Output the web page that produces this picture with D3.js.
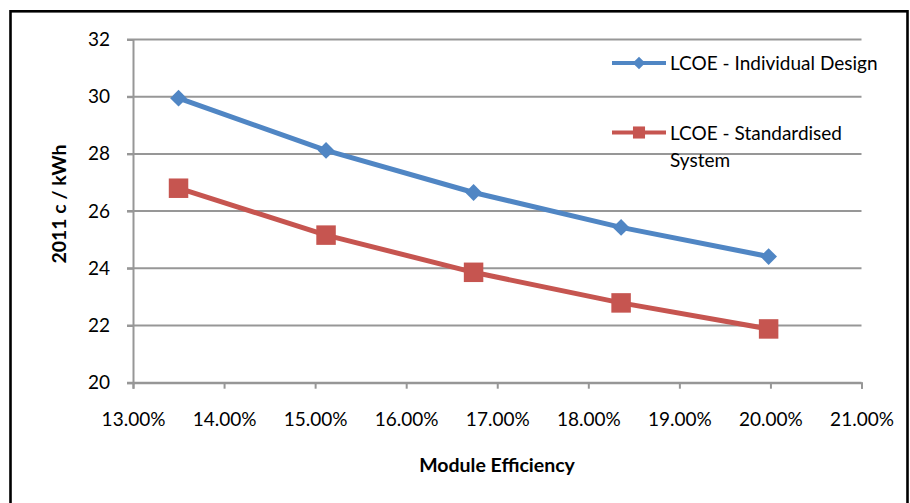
<!DOCTYPE html>
<html><head><meta charset="utf-8">
<script src="https://cdn.jsdelivr.net/npm/d3@7"></script>
<style>body{margin:0;background:#fff}svg{display:block}text{font-family:Lato,"Open Sans",sans-serif;fill:#000}</style>
</head><body><svg id="c" width="910" height="503"></svg>
<script>
const efficiency = [13.5, 15.12, 16.74, 18.36, 19.98];
const individual = [29.95, 28.12, 26.65, 25.43, 24.41];
const standardised = [26.8, 25.16, 23.86, 22.79, 21.88];
const xTicks = [13, 14, 15, 16, 17, 18, 19, 20, 21];
const yTicks = [20, 22, 24, 26, 28, 30, 32];
const seriesNames = ["LCOE - Individual Design", "LCOE - Standardised System"];

const svg = d3.select("#c");
const m = {l:133, r:861.5, t:39.5, b:382.7};
const x = d3.scaleLinear().domain([13,21]).range([m.l, m.r]);
const y = d3.scaleLinear().domain([20,32]).range([m.b, m.t]);
const grid = "#979797", blue = "#5086C4", red = "#C65550";

svg.append("rect").attr("x",10.5).attr("y",11.3).attr("width",897).attr("height",520)
  .attr("fill","none").attr("stroke","#000").attr("stroke-width",2.6);

svg.append("g").selectAll("line").data(yTicks).join("line")
  .attr("x1", m.l-6).attr("x2", m.r).attr("y1", d=>y(d)).attr("y2", d=>y(d))
  .attr("stroke", grid).attr("stroke-width", 2);

const ya = svg.append("g").attr("transform",`translate(${m.l},0)`)
  .call(d3.axisLeft(y).tickValues(yTicks).tickSize(6).tickPadding(17).tickFormat(d3.format("d")));
ya.select(".domain").attr("stroke",grid).attr("stroke-width",2);
ya.selectAll(".tick line").attr("stroke",grid).attr("stroke-width",2);
ya.selectAll("text").style("font-size","19px").attr("fill","#000");

const xa = svg.append("g").attr("transform",`translate(0,${m.b})`)
  .call(d3.axisBottom(x).tickValues(xTicks).tickSize(6).tickPadding(24).tickFormat(d=>d.toFixed(2)+"%"));
xa.select(".domain").attr("stroke",grid).attr("stroke-width",2);
xa.selectAll(".tick line").attr("stroke",grid).attr("stroke-width",2);
xa.selectAll("text").style("font-size","19px").attr("fill","#000");

svg.append("text").attr("transform","translate(66,204) rotate(-90)").attr("text-anchor","middle")
  .style("font-size","19.5px").style("font-weight","bold").text("2011 c / kWh");
svg.append("text").attr("x",497).attr("y",472).attr("text-anchor","middle")
  .style("font-size","19.5px").style("font-weight","bold").text("Module Efficiency");

const line = d3.line().x(d=>x(d[0])).y(d=>y(d[1]));
const diamond = d3.symbol().type(d3.symbolDiamond2).size(180);
const square = d3.symbol().type(d3.symbolSquare).size(380);

function series(vals, color, sym){
  const pts = efficiency.map((e,i)=>[e, vals[i]]);
  svg.append("path").datum(pts).attr("d",line).attr("fill","none").attr("stroke",color)
    .attr("stroke-width",5).attr("stroke-linejoin","round");
  svg.append("g").selectAll("path").data(pts).join("path")
    .attr("transform",d=>`translate(${x(d[0])},${y(d[1])})`).attr("d",sym).attr("fill",color);
}
series(individual, blue, diamond);
series(standardised, red, square);

const lg = svg.append("g");
function legendItem(yy, color, sym, symScale, lines){
  lg.append("line").attr("x1",612).attr("x2",666).attr("y1",yy).attr("y2",yy).attr("stroke",color).attr("stroke-width",4);
  lg.append("path").attr("transform",`translate(639,${yy}) scale(${symScale})`).attr("d",sym).attr("fill",color);
  const t = lg.append("text").attr("x",670).attr("y",yy+7).style("font-size","19px");
  lines.forEach((s,i)=>t.append("tspan").attr("x",670).attr("dy", i?27:0).text(s));
}
legendItem(63, blue, diamond, 0.75, [seriesNames[0]]);
legendItem(132.5, red, square, 0.62, ["LCOE - Standardised", "System"]);
</script></body></html>
